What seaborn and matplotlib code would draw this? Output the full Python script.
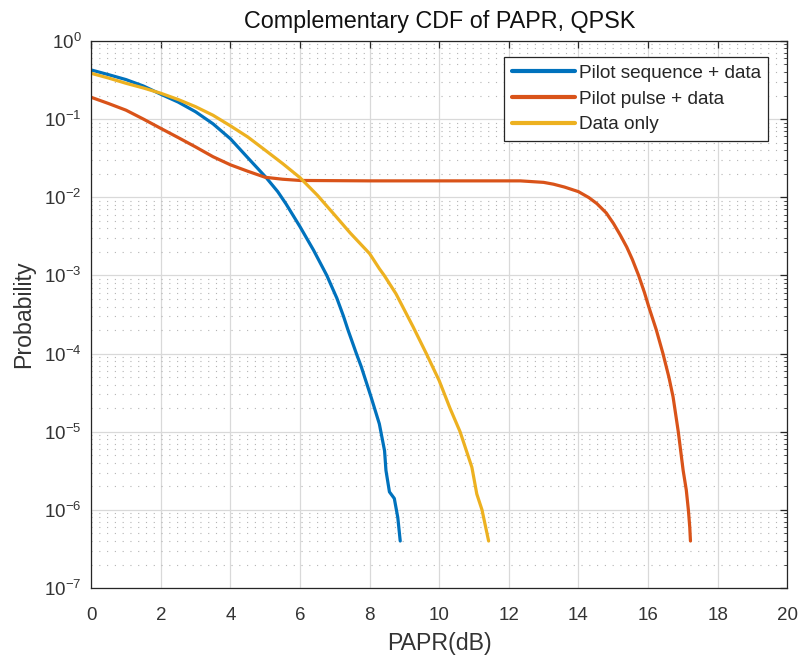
import numpy as np
import pandas as pd
import matplotlib
matplotlib.use("Agg")
import matplotlib.pyplot as plt
import seaborn as sns
from matplotlib.ticker import LogLocator, NullFormatter

# ---------------- data ----------------
series_names = ["Pilot sequence + data", "Pilot pulse + data", "Data only"]
series_colors = ["#0072BD", "#D95319", "#EDB120"]

seq_x = [0, 0.5, 1, 1.5, 2, 2.5, 3, 3.5, 4, 4.5, 5.02, 5.36, 5.6, 6.0, 6.39, 6.77,
         7.06, 7.25, 7.38, 7.62, 7.76, 8.04, 8.28, 8.43, 8.47, 8.57, 8.71, 8.81, 8.88]
seq_p = [0.425, 0.37, 0.32, 0.265, 0.208, 0.165, 0.124, 0.087, 0.056, 0.032, 0.018,
         0.0118, 0.0082, 0.0042, 0.0021, 1e-3, 5.1e-4, 3.0e-4, 2.0e-4, 1e-4, 6.8e-5,
         2.8e-5, 1.26e-5, 5.7e-6, 3.2e-6, 1.7e-6, 1.4e-6, 8e-7, 4e-7]

pulse_x = [0, 0.5, 1, 1.5, 2, 2.5, 3, 3.5, 4, 4.5, 5, 5.5, 6, 8, 10, 12, 12.33, 13.0,
           13.28, 13.6, 14.0, 14.3, 14.53, 14.8, 15.01, 15.2, 15.39, 15.55, 15.73,
           15.9, 16.02, 16.24, 16.43, 16.6, 16.72, 16.87, 17.01, 17.1, 17.16, 17.2, 17.22]
pulse_p = [0.19, 0.158, 0.13, 0.1, 0.076, 0.058, 0.044, 0.033, 0.026, 0.0215, 0.018,
           0.0170, 0.0164, 0.0162, 0.0162, 0.0162, 0.0162, 0.0155, 0.0147, 0.0135,
           0.0118, 0.0099, 0.0083, 0.0063, 0.0046, 0.0033, 0.0023, 0.0016, 1e-3,
           6e-4, 4e-4, 2e-4, 1e-4, 5e-5, 2.8e-5, 1e-5, 3.2e-6, 1.8e-6, 1e-6, 6e-7, 4e-7]

data_x = [0, 0.5, 1, 1.5, 2, 2.5, 3, 3.5, 4, 4.5, 5, 5.5, 6, 6.5, 7, 7.44, 8, 8.28,
          8.42, 8.76, 9.25, 9.63, 10.0, 10.31, 10.6, 10.94, 11.08, 11.23, 11.42]
data_p = [0.385, 0.335, 0.287, 0.25, 0.214, 0.178, 0.144, 0.112, 0.082, 0.059, 0.040,
          0.027, 0.0178, 0.0106, 0.0059, 0.0035, 0.0019, 1.22e-3, 1e-3, 5.8e-4, 2.2e-4,
          1e-4, 4.5e-5, 2.0e-5, 1e-5, 3.5e-6, 1.6e-6, 1e-6, 4e-7]

x_ticks = [0, 2, 4, 6, 8, 10, 12, 14, 16, 18, 20]
y_exponents = [0, -1, -2, -3, -4, -5, -6, -7]

title_text = "Complementary CDF of PAPR, QPSK"
xlabel_text = "PAPR(dB)"
ylabel_text = "Probability"

df = pd.concat([
    pd.DataFrame({"PAPR": seq_x, "P": seq_p, "Series": series_names[0]}),
    pd.DataFrame({"PAPR": pulse_x, "P": pulse_p, "Series": series_names[1]}),
    pd.DataFrame({"PAPR": data_x, "P": data_p, "Series": series_names[2]}),
], ignore_index=True)

# ---------------- style ----------------
sns.set_style("white")
plt.rcParams["font.family"] = ["Liberation Sans", "DejaVu Sans"]
plt.rcParams["mathtext.default"] = "regular"

fig = plt.figure(figsize=(8, 6.6), dpi=100)
ax = fig.add_axes([0.114, 0.109, 0.870, 0.829])

sns.lineplot(data=df, x="PAPR", y="P", hue="Series", hue_order=series_names,
             palette=series_colors, estimator=None, sort=False, linewidth=2.3,
             ax=ax)

ax.set_yscale("log")
ax.set_xlim(0, 20)
ax.set_ylim(1e-7, 1)
ax.set_xticks(x_ticks)
ax.set_xticklabels([str(t) for t in x_ticks])
ytick_vals = [10.0 ** e for e in y_exponents]
ax.set_yticks(ytick_vals)
ax.set_yticklabels([r"$10^{%d}$" % e for e in y_exponents])
ax.yaxis.set_minor_locator(LogLocator(base=10, subs=np.arange(2, 10), numticks=100))
ax.yaxis.set_minor_formatter(NullFormatter())

ax.grid(True, which="major", color="#d9d9d9", linewidth=0.9, linestyle="-")
ax.grid(True, which="minor", axis="y", color="#b4b4b4", linewidth=0.8,
        linestyle=(0, (1, 6)))
ax.set_axisbelow(True)

for s in ax.spines.values():
    s.set_visible(True)
    s.set_color("#262626")
    s.set_linewidth(0.9)

ax.tick_params(which="both", direction="in", top=True, right=True,
               colors="#262626", labelsize=13.5)
ax.tick_params(axis="x", which="major", pad=13.5)
ax.tick_params(axis="y", which="major", pad=7)
ax.tick_params(which="major", length=5, width=0.9)
ax.tick_params(which="minor", length=2.5, width=0.6)
for lab in ax.get_xticklabels() + ax.get_yticklabels():
    lab.set_color("#333333")

ax.set_title(title_text, fontsize=16.8, color="#111111", pad=9)
ax.set_xlabel(xlabel_text, fontsize=16.7, color="#333333", labelpad=6)
ax.set_ylabel(ylabel_text, fontsize=16.7, color="#333333", labelpad=6)

leg = ax.legend(loc="upper right", bbox_to_anchor=(0.973, 0.971), fontsize=13.7,
                frameon=True, fancybox=False, edgecolor="#262626", framealpha=1,
                handlelength=3.3, handletextpad=0.2, borderpad=0.4,
                labelspacing=0.45, borderaxespad=0)
leg.get_frame().set_linewidth(0.9)
for line in leg.get_lines():
    line.set_linewidth(3.0)

fig.savefig("out.png", dpi=100)
